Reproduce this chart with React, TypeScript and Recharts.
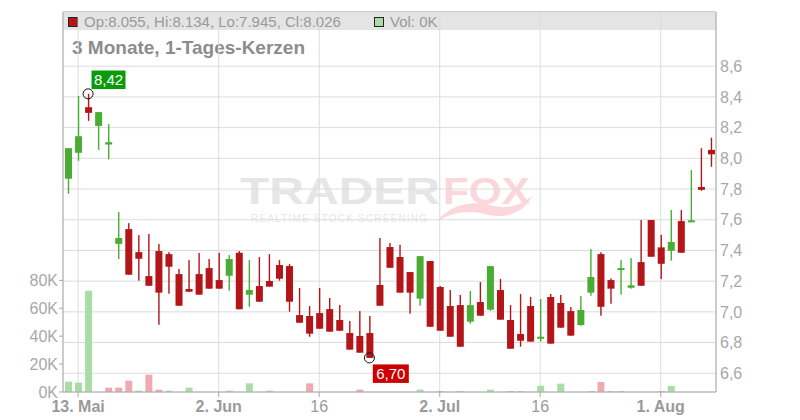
import React from 'react';
import { ComposedChart, Bar, XAxis, YAxis, CartesianGrid, ReferenceDot, Cell } from 'recharts';

const dates = [
  '2025-05-12', '2025-05-13', '2025-05-14', '2025-05-15', '2025-05-16',
  '2025-05-19', '2025-05-20', '2025-05-21', '2025-05-22', '2025-05-23',
  '2025-05-26', '2025-05-27', '2025-05-28', '2025-05-29', '2025-05-30',
  '2025-06-02', '2025-06-03', '2025-06-04', '2025-06-05', '2025-06-06',
  '2025-06-09', '2025-06-10', '2025-06-11', '2025-06-12', '2025-06-13',
  '2025-06-16', '2025-06-17', '2025-06-18', '2025-06-19', '2025-06-20',
  '2025-06-23', '2025-06-24', '2025-06-25', '2025-06-26', '2025-06-27',
  '2025-06-30', '2025-07-01', '2025-07-02', '2025-07-03', '2025-07-04',
  '2025-07-07', '2025-07-08', '2025-07-09', '2025-07-10', '2025-07-11',
  '2025-07-14', '2025-07-15', '2025-07-16', '2025-07-17', '2025-07-18',
  '2025-07-21', '2025-07-22', '2025-07-23', '2025-07-24', '2025-07-25',
  '2025-07-28', '2025-07-29', '2025-07-30', '2025-07-31', '2025-08-01',
  '2025-08-04', '2025-08-05', '2025-08-06', '2025-08-07', '2025-08-08',
];

const opens = [
  7.867, 8.036, 8.333, 8.211, 8.090, 7.443, 7.539, 7.389, 7.233, 7.396,
  7.376, 7.246, 7.149, 7.246, 7.285, 7.207, 7.235, 7.385, 7.112, 7.168,
  7.201, 7.305, 7.298, 6.979, 6.973, 6.992, 7.018, 6.947, 6.862, 6.843,
  6.862, 7.175, 7.422, 7.357, 7.259, 7.086, 7.331, 7.162, 7.038, 7.044,
  6.936, 7.064, 7.014, 7.142, 6.947, 6.856, 7.038, 6.825, 7.097, 7.058,
  7.005, 6.914, 7.125, 7.376, 7.207, 7.274, 7.157, 7.324, 7.598, 7.420,
  7.398, 7.591, 7.589, 7.813, 8.055,
];
const highs = [
  8.066, 8.407, 8.420, 8.301, 8.223, 7.650, 7.578, 7.500, 7.507, 7.442,
  7.389, 7.279, 7.337, 7.383, 7.344, 7.385, 7.370, 7.396, 7.337, 7.357,
  7.376, 7.337, 7.311, 7.155, 7.038, 7.155, 7.090, 7.044, 6.940, 7.005,
  6.973, 7.481, 7.448, 7.437, 7.259, 7.363, 7.331, 7.168, 7.142, 7.110,
  7.136, 7.194, 7.298, 7.214, 7.044, 7.116, 7.097, 7.084, 7.116, 7.110,
  7.031, 7.103, 7.409, 7.388, 7.218, 7.337, 7.350, 7.598, 7.598, 7.502,
  7.663, 7.663, 7.923, 8.066, 8.134,
];
const lows = [
  7.769, 7.984, 8.244, 8.055, 7.993, 7.344, 7.242, 7.203, 7.170, 6.916,
  7.118, 7.040, 7.131, 7.112, 7.151, 7.151, 7.138, 7.017, 7.033, 7.066,
  7.164, 7.203, 7.001, 6.929, 6.838, 6.890, 6.871, 6.877, 6.754, 6.734,
  6.700, 7.040, 7.287, 7.125, 6.988, 7.040, 6.903, 6.877, 6.838, 6.773,
  6.923, 6.975, 7.007, 6.949, 6.760, 6.773, 6.806, 6.806, 6.793, 6.897,
  6.845, 6.910, 7.105, 6.975, 7.053, 7.112, 7.151, 7.170, 7.359, 7.214,
  7.333, 7.385, 7.589, 7.788, 7.945,
];
const closes = [
  8.066, 8.144, 8.296, 8.301, 8.105, 7.481, 7.242, 7.346, 7.170, 7.125,
  7.294, 7.040, 7.131, 7.112, 7.151, 7.151, 7.344, 7.017, 7.142, 7.066,
  7.164, 7.216, 7.066, 6.929, 6.858, 6.890, 6.871, 6.877, 6.754, 6.734,
  6.700, 7.040, 7.287, 7.125, 7.125, 7.363, 6.903, 6.877, 6.838, 6.773,
  7.044, 6.975, 7.298, 6.949, 6.760, 6.812, 6.806, 6.838, 6.793, 6.897,
  6.845, 7.012, 7.227, 7.033, 7.151, 7.285, 7.173, 7.170, 7.359, 7.313,
  7.455, 7.385, 7.596, 7.795, 8.026,
];
// volume in thousands
const volumesK = [
  7.4, 6.7, 72.6, 0, 3.1, 3.1, 8.1, 1.0, 12.4, 1.7,
  1.0, 0, 3.1, 0, 0, 0, 1.0, 0, 6.2, 0,
  1.0, 0, 0, 0, 6.2, 0, 0, 0, 0, 1.7,
  0, 0, 0, 0, 0, 1.7, 0, 0.7, 0, 0.7,
  0, 0, 1.7, 0, 0.7, 0.7, 0, 4.5, 0, 6.0,
  0, 0, 0.7, 7.2, 0.7, 0.7, 0, 0, 0, 0.7,
  4.3, 0, 0, 0, 0,
];

const tickDates = ['2025-05-13', '2025-06-02', '2025-06-16', '2025-07-02', '2025-07-16', '2025-08-01'];
const tickNames = ['13. Mai', '2. Jun', '16', '2. Jul', '16', '1. Aug'];
const priceTicks = [6.6, 6.8, 7.0, 7.2, 7.4, 7.6, 7.8, 8.0, 8.2, 8.4, 8.6];
const priceDomain = [6.478, 8.953];
const volumeTicks = [0, 20, 40, 60, 80];
const volumeDomain = [0, 272.4];

const highMark = { date: '2025-05-14', value: 8.42, label: '8,42' };
const lowMark = { date: '2025-06-23', value: 6.7, label: '6,70' };

const legendText = 'Op:8.055, Hi:8.134, Lo:7.945, Cl:8.026';
const volText = 'Vol: 0K';
const titleText = '3 Monate, 1-Tages-Kerzen';

const RED = '#b31518';
const GREEN = '#4aad33';
const VOL_RED = '#f0a9b1';
const VOL_GREEN = '#a9dca7';
const FONT = '"Liberation Sans", Arial, sans-serif';

const data = dates.map((d, i) => ({
  date: d,
  open: opens[i],
  high: highs[i],
  low: lows[i],
  close: closes[i],
  range: [lows[i], highs[i]],
  vol: volumesK[i],
  volUp: i === 0 ? closes[i] >= opens[i] : closes[i] >= closes[i - 1],
}));

const Candle = (props: any) => {
  const { x, y, width, height, payload } = props;
  if (x == null || y == null) return null;
  const { open, close, high, low } = payload;
  const color = close >= open ? GREEN : RED;
  const span = high - low;
  const ppu = span > 0 ? height / span : 0;
  const yOf = (v: number) => y + (high - v) * ppu;
  const cx = x + width / 2;
  const top = yOf(Math.max(open, close));
  const bh = Math.max(Math.abs(open - close) * ppu, 2);
  return (
    <g>
      <rect x={cx - 0.7} y={y} width={1.4} height={Math.max(height, 1)} fill={color} />
      <rect x={x} y={top} width={width} height={bh} fill={color} />
    </g>
  );
};

const XTick = (props: any) => {
  const { x, y, payload } = props;
  const idx = tickDates.indexOf(payload.value);
  const label = idx >= 0 ? tickNames[idx] : '';
  const bold = /[A-Za-z]/.test(label);
  return (
    <text x={x} y={y} dy={12.5} textAnchor="middle" fill="#9a9a9a" fontSize={16}
      fontWeight={bold ? 700 : 400} fontFamily={FONT}>{label}</text>
  );
};

const MarkShape = (color: string, label: string, above: boolean) => (props: any) => {
  const { cx, cy } = props;
  if (cx == null || cy == null) return null;
  const bx = cx + 3.4;
  const by = above ? cy - 23.3 : cy + 6.5;
  const w = above ? 34 : 36;
  const h = 18.5;
  return (
    <g>
      <circle cx={cx} cy={cy} r={5} fill="none" stroke="#111" strokeWidth={1} />
      <rect x={bx} y={by} width={w} height={h} fill={color} />
      <text x={bx + w / 2} y={by + 14.5} textAnchor="middle" fill="#fff" fontSize={15} fontFamily={FONT}>{label}</text>
    </g>
  );
};

export default function App() {
  return (
    <div style={{ position: 'absolute', left: 0, top: 0, width: 800, height: 420, background: '#fff' }}>
      <svg width={800} height={420} style={{ position: 'absolute', left: 0, top: 0 }}>
        <rect x={63} y={12} width={653} height={18} fill="#e4e4e4" />
        <line x1={63} y1={11.5} x2={716} y2={11.5} stroke="#c4c4c4" strokeWidth={1} />
        <rect x={68.5} y={17.5} width={9} height={9} fill={RED} stroke="#222" strokeWidth={1} />
        <text x={84} y={26.7} fontSize={15} fill="#9a9a9a" fontFamily={FONT}>{legendText}</text>
        <rect x={374.5} y={17.5} width={9} height={9} fill={VOL_GREEN} stroke="#222" strokeWidth={1} />
        <text x={390} y={26.7} fontSize={15} fill="#9a9a9a" fontFamily={FONT}>{volText}</text>
        <text x={72} y={54.3} fontSize={19} fontWeight={700} fill="#8c8c8c" fontFamily={FONT}>{titleText}</text>
        <text x={240} y={204} fontSize={36} fontWeight={700} fill="#e6e6e6" fontFamily={FONT}
          textLength={200} lengthAdjust="spacingAndGlyphs">TRADER</text>
        <text x={443} y={204} fontSize={36} fontWeight={700} fill="#fbd6da" fontFamily={FONT}
          textLength={87} lengthAdjust="spacingAndGlyphs">FOX</text>
        <path d="M 436 222 C 450 205, 470 200, 490 205 C 505 210, 520 206, 532 196 C 525 212, 505 220, 485 214 C 468 210, 452 212, 436 222 Z" fill="#fbd6da" />
        <text x={251} y={222.3} fontSize={10} fill="#e6e6e6" fontFamily={FONT}
          textLength={176} lengthAdjust="spacing">REALTIME STOCK SCREENING</text>
      </svg>
      <div style={{ position: 'relative' }}>
        <ComposedChart width={800} height={420} data={data} barGap={-7}
          margin={{ top: 12, right: 0, bottom: 0, left: 0 }}>
          <CartesianGrid yAxisId="price" stroke="#dcdcdc" strokeWidth={1} />
          <XAxis dataKey="date" ticks={tickDates} interval={0} height={28}
            tick={<XTick />} tickSize={5} tickMargin={2}
            axisLine={{ stroke: '#aaa' }} tickLine={{ stroke: '#aaa' }} />
          <YAxis yAxisId="vol" orientation="left" width={63} domain={volumeDomain} ticks={volumeTicks}
            allowDataOverflow tickFormatter={(v: number) => `${v}K`} tickSize={4} tickMargin={1}
            axisLine={{ stroke: '#aaa' }} tickLine={{ stroke: '#aaa' }}
            tick={{ fill: '#a8a8a8', fontSize: 16, fontFamily: FONT }} />
          <YAxis yAxisId="price" orientation="right" width={84} domain={priceDomain} ticks={priceTicks}
            allowDataOverflow tickFormatter={(v: number) => v.toFixed(1).replace('.', ',')}
            tickSize={2} tickMargin={2} tickLine={false}
            axisLine={{ stroke: '#aaa' }}
            tick={{ fill: '#a8a8a8', fontSize: 16, fontFamily: FONT, textAnchor: 'start' }} />
          <Bar yAxisId="vol" dataKey="vol" barSize={7} isAnimationActive={false}>
            {data.map((d, i) => (
              <Cell key={i} fill={d.volUp ? VOL_GREEN : VOL_RED} />
            ))}
          </Bar>
          <Bar yAxisId="price" dataKey="range" barSize={7} isAnimationActive={false} shape={<Candle />} />
          <ReferenceDot yAxisId="price" x={highMark.date} y={highMark.value} r={5}
            shape={MarkShape('#0a9a0a', highMark.label, true)} />
          <ReferenceDot yAxisId="price" x={lowMark.date} y={lowMark.value} r={5}
            shape={MarkShape('#cc0000', lowMark.label, false)} />
        </ComposedChart>
      </div>
    </div>
  );
}
